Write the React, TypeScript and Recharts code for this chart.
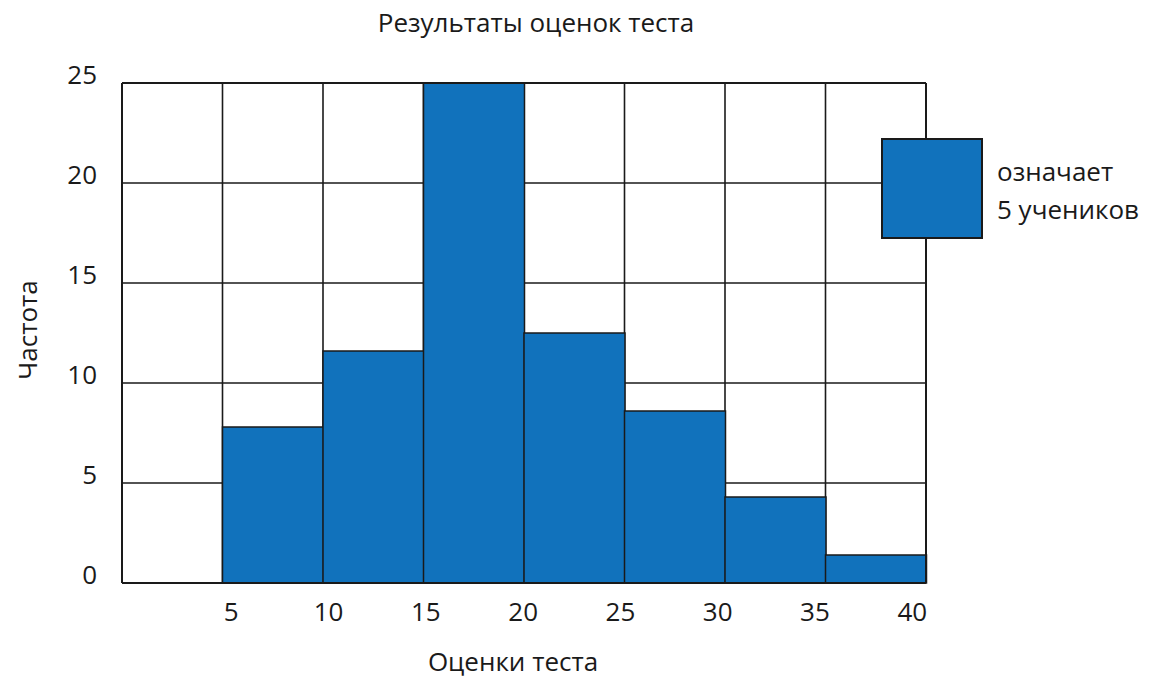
import React from "react";
import {
  BarChart,
  Bar,
  XAxis,
  YAxis,
  CartesianGrid,
  ReferenceLine,
} from "recharts";

const bins = ["0-5", "5-10", "10-15", "15-20", "20-25", "25-30", "30-35", "35-40"];
const frequency = [0, 7.8, 11.6, 25, 12.5, 8.6, 4.3, 1.4];
const xTickLabels = ["5", "10", "15", "20", "25", "30", "35", "40"];
const yTicks = [0, 5, 10, 15, 20, 25];

const FONT = "'Open Sans', sans-serif";
const INK = "#1a1a1a";
const BLUE = "#1172bc";

const PLOT_LEFT = 122;
const PLOT_WIDTH = 804;
const BAND = PLOT_WIDTH / bins.length;

const data = bins.map((bin, i) => ({ bin, freq: frequency[i] }));

// label sits at the right edge of each bin; in the source they drift a little left going right
const XTick = (props: any) => {
  const { x, y, index } = props;
  const edge = x + BAND / 2;
  const lx = PLOT_LEFT + (edge - PLOT_LEFT) * 0.968 + 12;
  return (
    <text
      x={lx}
      y={y + 20}
      textAnchor="middle"
      dominantBaseline="central"
      fontFamily={FONT}
      fontSize={26}
      fill={INK}
    >
      {xTickLabels[index]}
    </text>
  );
};

const YTick = (props: any) => {
  const { x, y, payload } = props;
  return (
    <text
      x={x}
      y={y - 9}
      textAnchor="end"
      dominantBaseline="central"
      fontFamily={FONT}
      fontSize={26}
      fill={INK}
    >
      {payload.value}
    </text>
  );
};

const binEdges = ({ offset }: any) =>
  bins.map((_, i) => offset.left + ((i + 1) * offset.width) / bins.length);

export default function App() {
  return (
    <div
      style={{
        position: "absolute",
        left: 0,
        top: 0,
        width: 1149,
        height: 679,
        background: "#fff",
        fontFamily: FONT,
        color: INK,
      }}
    >
      <BarChart
        width={1149}
        height={679}
        data={data}
        margin={{ top: 83, right: 223, bottom: 0, left: 0 }}
        barCategoryGap={0}
      >
        <CartesianGrid
          stroke={INK}
          strokeWidth={1.6}
          strokeOpacity={1}
          fill="none"
          verticalCoordinatesGenerator={binEdges}
        />
        <XAxis
          dataKey="bin"
          height={96}
          axisLine={false}
          tickLine={false}
          interval={0}
          tick={<XTick />}
        />
        <YAxis
          domain={[0, 25]}
          ticks={yTicks}
          width={122}
          axisLine={false}
          tickLine={false}
          tickSize={0}
          tickMargin={25}
          tick={<YTick />}
        />
        <Bar
          dataKey="freq"
          fill={BLUE}
          stroke={INK}
          strokeWidth={1.5}
          isAnimationActive={false}
        />
        <ReferenceLine x={bins[0]} position="start" stroke={INK} strokeWidth={2} />
        <ReferenceLine x={bins[bins.length - 1]} position="end" stroke={INK} strokeWidth={2} />
        <ReferenceLine y={0} stroke={INK} strokeWidth={2} />
        <ReferenceLine y={25} stroke={INK} strokeWidth={2} />
      </BarChart>

      <div
        style={{
          position: "absolute",
          left: 0,
          width: 1072,
          top: 4,
          textAlign: "center",
          fontSize: 26,
        }}
      >
        Результаты оценок теста
      </div>

      <div
        style={{
          position: "absolute",
          left: 0,
          width: 1026,
          top: 643,
          textAlign: "center",
          fontSize: 26,
        }}
      >
        Оценки теста
      </div>

      <div
        style={{
          position: "absolute",
          left: 27,
          top: 330,
          transform: "translate(-50%, -50%) rotate(-90deg)",
          fontSize: 26,
          whiteSpace: "nowrap",
        }}
      >
        Частота
      </div>

      <div
        style={{
          position: "absolute",
          left: 881,
          top: 138,
          width: 98,
          height: 97,
          background: BLUE,
          border: `2px solid ${INK}`,
        }}
      />
      <div
        style={{
          position: "absolute",
          left: 997,
          top: 152,
          fontSize: 26,
          lineHeight: "38px",
          whiteSpace: "nowrap",
        }}
      >
        означает
        <br />5 учеников
      </div>
    </div>
  );
}
